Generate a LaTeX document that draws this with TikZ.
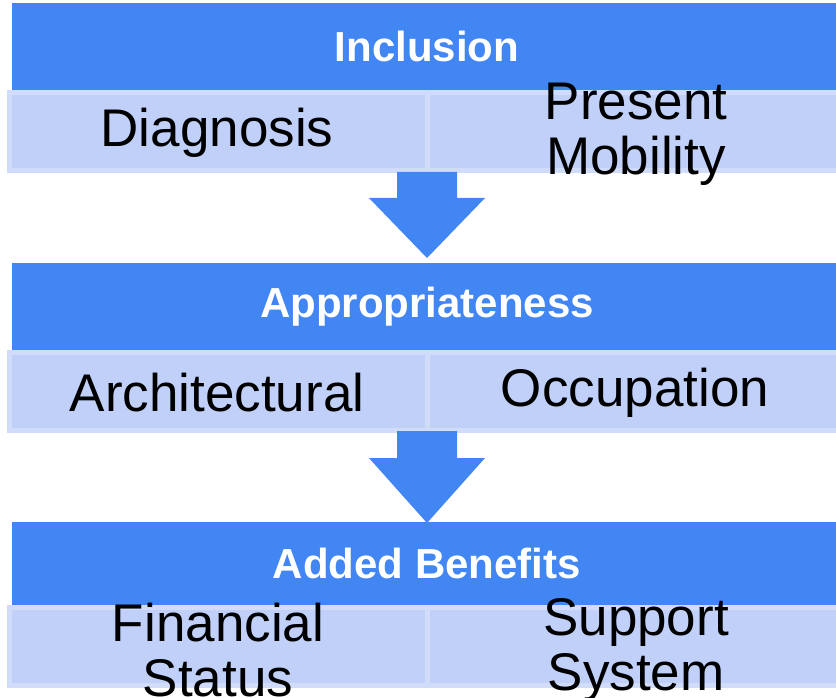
\documentclass[tikz,border=0pt]{standalone}
\usepackage{fontspec}
\setmainfont{Liberation Sans}
\definecolor{hdr}{RGB}{66,134,243}
\definecolor{cell}{RGB}{192,208,248}
\definecolor{cellb}{RGB}{208,220,250}
\begin{document}
\begin{tikzpicture}[x=1pt,y=-1pt,
  hdrbox/.style={fill=hdr,draw=none,inner sep=0pt,outer sep=0pt,minimum width=830pt,text=white,font=\fontsize{42}{46}\selectfont\bfseries},
  rowbox/.style={fill=cell,draw=cellb,line width=5pt,inner sep=0pt,outer sep=0pt,minimum width=833pt,minimum height=78pt},
  celltext/.style={align=center,inner sep=0pt,font=\fontsize{53}{55}\selectfont},
  blockarrow/.style={fill=hdr,draw=none}]
\useasboundingbox (0,0) rectangle (836,698);
% level 1
\node[hdrbox,minimum height=87pt] (h1) at (427,46.5) {Inclusion};
\node[rowbox] (r1) at (426,131.5) {};
\draw[cellb,line width=5pt] (427,92.5) -- (427,170.5);
\node[celltext] (t1a) at (217,133) {Diagnosis};
\node[celltext] (t1b) at (636,134) {Present\\Mobility};
% arrow 1
\fill[blockarrow] (397,172) -- (457,172) -- (457,198) -- (485,198) -- (427,258) -- (369,198) -- (397,198) -- cycle;
% level 2
\node[hdrbox,minimum height=87pt] (h2) at (427,306.5) {Appropriateness};
\node[rowbox] (r2) at (426,391) {};
\draw[cellb,line width=5pt] (427,352) -- (427,430);
\node[celltext] (t2a) at (217,393) {Architectural};
\node[celltext] (t2b) at (635,393) {Occupation};
% arrow 2
\fill[blockarrow] (397,431) -- (457,431) -- (457,458) -- (485,458) -- (427,523) -- (369,458) -- (397,458) -- cycle;
% level 3
\node[hdrbox,minimum height=83pt] (h3) at (427,563.5) {Added Benefits};
\node[rowbox] (r3) at (426,646.5) {};
\draw[cellb,line width=5pt] (427,607.5) -- (427,685.5);
\node[celltext] (t3a) at (218,650) {Financial\\Status};
\node[celltext] (t3b) at (636,650) {Support\\System};
\end{tikzpicture}
\end{document}
